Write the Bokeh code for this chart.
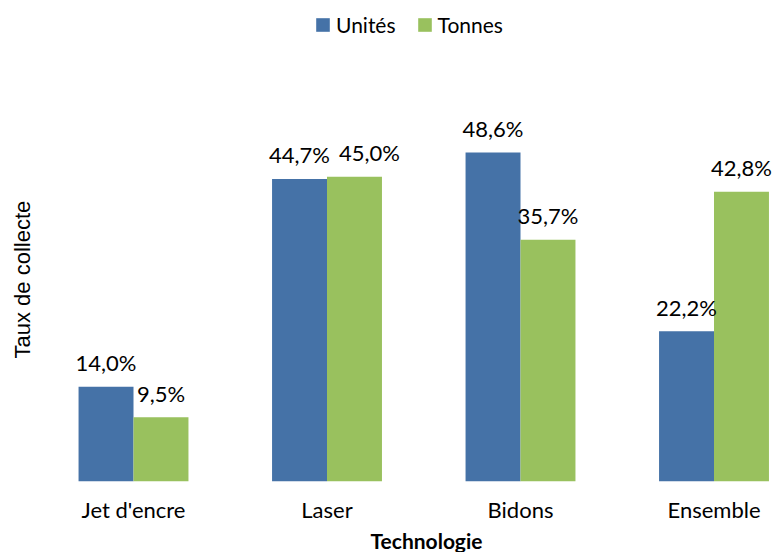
from bokeh.plotting import figure
from bokeh.models import ColumnDataSource, Range1d, FixedTicker, Legend, LegendItem, Title
from bokeh.core.properties import value
from bokeh.embed import file_html
from bokeh.resources import INLINE

categories = ["Jet d'encre", "Laser", "Bidons", "Ensemble"]
unites = [14.0, 44.7, 48.6, 22.2]
tonnes = [9.5, 45.0, 35.7, 42.8]
series_names = ["Unités", "Tonnes"]
x_title = "Technologie"
y_title = "Taux de collecte"

BLUE = "#4572A7"
GREEN = "#99C15E"
FONT = "Lato"

def fmt(v):
    return f"{v:.1f}".replace(".", ",") + "%"

idx = list(range(len(categories)))
bw = 0.284
off = bw / 2

# nudge the second label right when the two labels of a group sit at the same height
t_nudge = [15 if abs(u - t) < 2 else 0 for u, t in zip(unites, tonnes)]

src_u = ColumnDataSource(dict(x=[i - off for i in idx], top=unites,
                              lab=[fmt(v) for v in unites], xo=[0] * len(idx)))
src_t = ColumnDataSource(dict(x=[i + off for i in idx], top=tonnes,
                              lab=[fmt(v) for v in tonnes], xo=t_nudge))

p = figure(width=772, height=552, output_backend="svg", toolbar_location=None,
           x_range=Range1d(-0.5065, 3.3023), y_range=Range1d(0, 71.05),
           min_border_left=35, min_border_right=0, min_border_top=0, min_border_bottom=71)
p.outline_line_color = None
p.xgrid.visible = False
p.ygrid.visible = False
p.background_fill_color = "white"
p.border_fill_color = "white"

r_u = p.vbar(x="x", top="top", width=bw, source=src_u, fill_color=BLUE, line_color=None)
r_t = p.vbar(x="x", top="top", width=bw, source=src_t, fill_color=GREEN, line_color=None)

for src in (src_u, src_t):
    p.text(x="x", y="top", text="lab", source=src, text_align="center",
           text_baseline="alphabetic", x_offset="xo", y_offset=-24, text_font=value(FONT),
           text_font_size="22px", text_color="black")

# x axis
xa = p.xaxis[0]
xa.ticker = FixedTicker(ticks=idx)
xa.major_label_overrides = {i: c for i, c in zip(idx, categories)}
xa.axis_line_color = None
xa.major_tick_line_color = None
xa.minor_tick_line_color = None
xa.major_tick_in = 0
xa.major_tick_out = 0
xa.major_label_standoff = 14
xa.major_label_text_font = FONT
xa.major_label_text_font_size = "22px"
xa.major_label_text_color = "black"

p.yaxis.visible = False

p.add_layout(Title(text=x_title, align="left", offset=335, standoff=0,
                   text_font=FONT, text_font_size="21px", text_font_style="bold",
                   text_color="black"), "below")
p.add_layout(Title(text=y_title, align="left", offset=123, standoff=2,
                   text_font="Liberation Sans", text_font_size="22px",
                   text_font_style="normal", text_color="black"), "left")

legend = Legend(items=[LegendItem(label=series_names[0], renderers=[r_u]),
                       LegendItem(label=series_names[1], renderers=[r_t])],
                orientation="horizontal", location=(279, 444), margin=0, padding=8,
                spacing=20, label_standoff=5, glyph_width=17, glyph_height=17,
                label_height=17, label_text_font=FONT, label_text_font_size="21px",
                label_text_color="black", border_line_color=None,
                background_fill_alpha=0)
p.add_layout(legend)

open("out.html", "w").write(file_html(p, INLINE))
